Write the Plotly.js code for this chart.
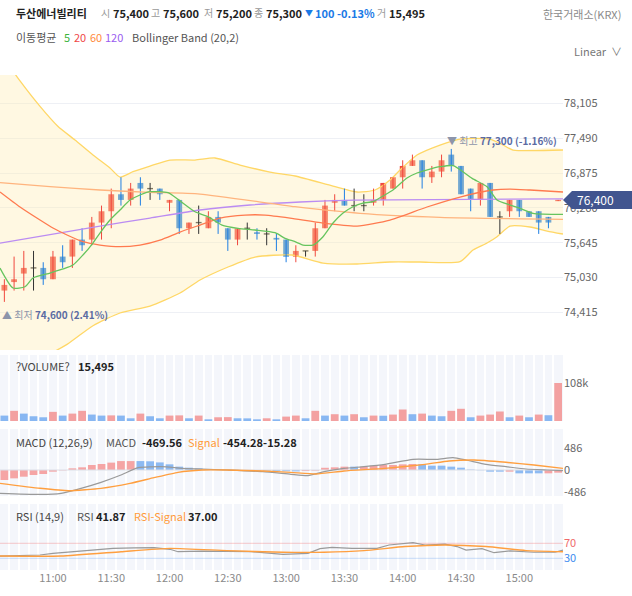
<!DOCTYPE html>
<html><head><meta charset="utf-8">
<script src="https://cdn.plot.ly/plotly-3.0.1.min.js"></script>
<style>html,body{margin:0;padding:0;background:#fff}#chart{width:632px;height:596px}</style>
</head><body><div id="chart"></div>
<script>
const FONT = '"Noto Sans CJK KR", "Noto Sans", sans-serif';

// ---- time axis (5-minute bars) ----
const times = ['10:35','10:40','10:45','10:50','10:55','11:00','11:05','11:10','11:15','11:20','11:25','11:30','11:35','11:40','11:45','11:50','11:55','12:00','12:05','12:10','12:15','12:20','12:25','12:30','12:35','12:40','12:45','12:50','12:55','13:00','13:05','13:10','13:15','13:20','13:25','13:30','13:35','13:40','13:45','13:50','13:55','14:00','14:05','14:10','14:15','14:20','14:25','14:30','14:35','14:40','14:45','14:50','14:55','15:00','15:05','15:10','15:15','15:20'];
const timeTickLabels = ['11:00','11:30','12:00','12:30','13:00','13:30','14:00','14:30','15:00'];

// ---- OHLC ----
const open  = [74800,74950,75100,75200,75200,75000,75400,75400,75700,75700,76000,76200,76500,76400,76700,76600,76600,76350,76400,75900,76000,75900,76100,75900,75700,75900,75830,75800,75730,75700,75400,75500,75500,75900,76350,76400,76300,76300,76350,76400,76600,76800,77000,77100,76800,76900,77200,77000,76600,76400,76700,76100,76200,76400,76200,76200,76100,76380];
const high  = [75000,75400,75500,75500,75300,75500,75600,75700,75900,76100,76300,76600,76800,76700,76800,76700,76600,76400,76400,76000,76300,76200,76200,75900,75900,76000,75900,75900,75800,75700,75600,75500,76000,76400,76500,76600,76600,76500,76600,76700,76800,77100,77200,77100,77000,77200,77300,77000,76600,76700,76700,76200,76400,76400,76200,76200,76100,76400];
const low   = [74600,74800,74800,74800,74900,75000,75200,75200,75500,75600,75700,75900,76300,76300,76300,76400,76400,76200,75800,75800,75800,75900,75800,75500,75600,75700,75700,75600,75500,75300,75300,75400,75400,75900,76200,76300,76200,76200,76300,76300,76600,76600,77000,76600,76700,76800,76900,76500,76200,76300,76100,75800,76100,76100,76100,75800,75900,76380];
const close = [74900,75000,75200,75200,75000,75400,75300,75700,75600,76000,76200,76500,76400,76600,76600,76600,76500,76400,75900,76000,76000,76100,76000,75700,75900,75900,75800,75800,75700,75400,75500,75500,75900,76300,76400,76300,76300,76300,76400,76700,76800,77000,77100,76800,76900,77100,77000,76500,76400,76700,76100,76100,76400,76200,76100,76000,76000,76400];

// ---- overlays (bar index, price) ----
const ma5X  = [-0.45,0.89,2.12,2.95,4.7,6.04,7.06,8.09,9.12,9.84,10.87,11.9,12.93,13.96,14.99,16.84,17.87,19.62,20.96,22.4,24.05,25.8,27.86,28.89,29.92,30.74,31.77,32.8,33.83,34.86,35.89,36.91,37.94,38.97,40.0,41.44,42.47,43.81,44.84,46.2,48.14,49.68,50.71,52.05,53.08,54.41,57.5];
const ma5Y  = [75198,74845,74868,75022,75110,75181,75251,75428,75639,75816,76045,76221,76398,76487,76545,76527,76410,76192,76104,75957,75899,75869,75821,75722,75662,75604,75604,75750,75992,76169,76280,76345,76368,76469,76575,76787,76875,76945,76986,77004,76781,76633,76398,76310,76252,76164,76146];
const ma20X = [-0.45,1.61,3.67,5.0,6.45,8.09,9.84,11.9,13.96,16.02,18.08,20.14,22.2,24.77,26.83,29.4,32.8,36.3,39.69,43.5,46.9,50.3,52.05,54.1,57.5];
const ma20Y = [76540,76275,76045,75904,75781,75662,75604,75574,75604,75692,75833,75957,76080,76133,76133,76080,75992,75939,76045,76275,76451,76575,76592,76575,76540];
const ma60X = [-0.45,4.7,9.84,14.99,20.14,29.92,36.61,44.84,57.5];
const ma60Y = [76704,76633,76575,76534,76504,76280,76163,76093,76058];
const ma120X = [-0.45,9.84,14.99,20.14,25.28,30.43,36.0,57.5];
const ma120Y = [75639,75939,76080,76222,76310,76363,76395,76420];
const bbUpX = [-0.45,1.61,3.67,5.5,7.27,9.12,10.87,11.9,13.24,14.99,17.05,19.62,21.68,24.25,27.34,29.92,33.83,36.3,38.15,39.69,40.72,42.47,44.84,46.9,49.99,51.33,52.36,57.5];
const bbUpY = [79000,78500,78050,77700,77457,77193,76963,76804,76898,76998,77104,77104,77140,77016,76892,76822,76645,76540,76575,76751,76928,77193,77369,77475,77475,77369,77281,77281];
const bbLoX = [-0.45,3.67,6.45,9.12,11.9,14.99,18.08,20.14,23.02,25.8,29.61,32.8,36.3,39.69,42.78,46.9,48.24,49.68,50.71,52.05,54.1,55.86,57.5];
const bbLoY = [73300,73600,73850,74180,74404,74527,74757,74986,75216,75392,75428,75286,75269,75304,75304,75310,75516,75639,75751,75939,75922,75851,75798];

// ---- volume ----
const volume = [15400,28900,21000,13500,10600,26000,15400,21000,28900,18300,15400,16000,15400,7700,21000,13500,7700,15400,16000,7700,15400,4800,10600,11000,7700,7500,4800,7700,4800,12500,15400,7700,28900,15400,19300,15400,19300,10600,15400,15000,18300,32700,19300,21000,15400,13500,28900,34700,10600,15400,18300,27000,10600,15400,10600,18300,16400,108000];
const volDir = ['d','u','d','d','d','u','d','u','u','d','d','u','d','d','u','d','d','u','u','d','u','d','u','u','d','d','d','u','d','u','u','d','u','d','u','d','u','d','u','d','u','u','d','u','d','d','u','u','d','u','u','u','d','u','d','u','d','u'];

// ---- MACD (12,26,9) ----
const macdHist = [-224,-187,-150,-112,-90,-37,-8,37,60,112,135,165,200,200,200,195,170,127,75,52,37,22,10,5,-5,-10,-10,-15,-22,-26,-30,-22,-15,50,60,75,75,75,97,112,112,127,135,127,97,97,75,52,10,-5,-37,-37,-37,-75,-75,-75,-75,-60];
const macdHistDir = ['u','u','u','u','u','u','u','u','u','u','u','u','u','u','d','d','d','d','d','d','d','d','d','d','d','d','d','d','d','d','d','u','u','u','u','u','d','u','u','u','u','u','u','d','d','d','d','d','d','d','d','d','u','d','d','d','u','u'];
const macdX = [-0.45,3.67,5.83,7.89,9.95,12.0,13.76,16.23,18.28,20.34,22.92,26.62,29.5,31.25,32.9,34.96,37.02,39.18,42.06,44.53,46.18,47.52,49.58,51.63,53.69,55.86,57.5];
const macdY = [-522,-545,-522,-410,-276,-112,52,75,37,22,0,-37,-97,-127,-37,37,75,127,239,239,276,224,127,75,22,0,-15];
const signalX = [-0.45,3.67,6.65,9.95,12.93,15.4,17.87,20.34,22.92,26.62,29.5,32.08,34.96,39.18,43.3,45.77,48.34,51.63,54.51,57.5];
const signalY = [-299,-410,-463,-410,-299,-172,-52,0,0,-22,-52,-90,-22,37,127,202,224,172,112,37];

// ---- RSI (14,9) ----
const rsiX = [-0.45,3.67,5.0,7.06,9.12,11.18,13.35,15.4,17.05,17.87,20.34,22.92,25.39,28.68,31.25,32.49,33.72,35.78,38.36,39.59,42.06,43.3,45.36,46.59,47.52,49.16,50.4,52.05,54.51,56.68,57.5];
const rsiY = [36,38.8,43.3,47.6,52,56.6,57.8,58.4,54,47.6,49,47.6,47.6,40.6,43.3,55.9,58.9,56.6,56.6,65.5,71.6,65.5,67.8,61.3,52,55.9,44.9,49.6,46.2,46.2,52];
const rsiSigX = [-0.45,5.83,12.0,17.05,22.92,28.68,32.9,37.02,41.24,45.36,49.58,53.69,57.5];
const rsiSigY = [36,36,47.6,56.6,50.5,46.2,46.2,50.5,61.3,65.5,61.3,50.5,47.6];

// ---- axis ticks ----
const mainTicks = [78105,77490,76875,76260,75645,75030,74415];
const macdTicks = [486,0,-486];
const rsiTicks = [70,30];
const volTicks = [108000];
const currentPrice = 76400;
const dayHigh = 77300, dayLow = 74600;

// ================= build =================
const idx = times.map((_, i) => i);
const XR = [-0.45, 57.5];
const C = {up:'#f0483e', down:'#1f7fe3', flat:'#333333'};
const dir = idx.map(i => close[i] > open[i] ? 'up' : (close[i] < open[i] ? 'down' : 'flat'));
const minBody = 24;

const traces = [];
traces.push({type:'scatter', mode:'lines', x:bbUpX.concat(bbLoX.slice().reverse()), y:bbUpY.concat(bbLoY.slice().reverse()),
  fill:'toself', fillcolor:'rgba(255,236,179,0.38)', line:{width:0, shape:'spline', smoothing:0.6}, hoverinfo:'skip', xaxis:'x', yaxis:'y'});
traces.push({type:'scatter', mode:'lines', x:bbUpX, y:bbUpY, line:{color:'#ffd766', width:1.3, shape:'spline', smoothing:0.6}, xaxis:'x', yaxis:'y'});
traces.push({type:'scatter', mode:'lines', x:bbLoX, y:bbLoY, line:{color:'#ffd766', width:1.3, shape:'spline', smoothing:0.6}, xaxis:'x', yaxis:'y'});

['up','down','flat'].forEach(d => {
  const wx = [], wy = [];
  idx.forEach(i => { if (dir[i] === d) { wx.push(i, i, null); wy.push(low[i], high[i], null); } });
  traces.push({type:'scatter', mode:'lines', x:wx, y:wy, line:{color:C[d], width:1}, xaxis:'x', yaxis:'y', hoverinfo:'skip'});
});
traces.push({type:'bar', x:idx,
  base: idx.map(i => { const lo = Math.min(open[i], close[i]); const h = Math.abs(close[i]-open[i]); return h < minBody ? (lo + h/2 - minBody/2) : lo; }),
  y: idx.map(i => Math.max(Math.abs(close[i]-open[i]), minBody)),
  width:0.6, marker:{color: idx.map(i => C[dir[i]]), line:{width:0}}, xaxis:'x', yaxis:'y', hoverinfo:'skip'});

const ma = [[ma120X, ma120Y, '#bb8cf2'], [ma60X, ma60Y, '#ffb47e'], [ma20X, ma20Y, '#ff7a4f'], [ma5X, ma5Y, '#66c45e']];
ma.forEach(([x, y, c]) => traces.push({type:'scatter', mode:'lines', x, y, line:{color:c, width:1.3, shape:'spline', smoothing:0.6}, xaxis:'x', yaxis:'y'}));

traces.push({type:'bar', x:idx, y:volume, width:0.8, marker:{color: volDir.map(d => d === 'u' ? '#f3a1a1' : '#88b7f2'), line:{width:0}}, xaxis:'x2', yaxis:'y2'});

traces.push({type:'scatter', mode:'lines', x:XR, y:[0,0], line:{color:'#dcdfe7', width:1}, xaxis:'x3', yaxis:'y3', hoverinfo:'skip'});
traces.push({type:'bar', x:idx, y:macdHist, width:0.8, marker:{color: macdHistDir.map(d => d === 'u' ? '#f5a5a5' : '#8dbaf2'), line:{width:0}}, xaxis:'x3', yaxis:'y3'});
traces.push({type:'scatter', mode:'lines', x:macdX, y:macdY, line:{color:'#9a9a9a', width:1.2, shape:'spline', smoothing:0.5}, xaxis:'x3', yaxis:'y3'});
traces.push({type:'scatter', mode:'lines', x:signalX, y:signalY, line:{color:'#ff9f3f', width:1.4, shape:'spline', smoothing:0.5}, xaxis:'x3', yaxis:'y3'});

traces.push({type:'scatter', mode:'lines', x:XR, y:[rsiTicks[0], rsiTicks[0]], line:{color:'rgba(240,110,110,0.35)', width:1}, xaxis:'x4', yaxis:'y4', hoverinfo:'skip'});
traces.push({type:'scatter', mode:'lines', x:XR, y:[rsiTicks[1], rsiTicks[1]], line:{color:'rgba(90,150,240,0.3)', width:1}, xaxis:'x4', yaxis:'y4', hoverinfo:'skip'});
traces.push({type:'scatter', mode:'lines', x:rsiX, y:rsiY, line:{color:'#9a9a9a', width:1.2}, xaxis:'x4', yaxis:'y4'});
traces.push({type:'scatter', mode:'lines', x:rsiSigX, y:rsiSigY, line:{color:'#ff9f3f', width:1.4, shape:'spline', smoothing:0.5}, xaxis:'x4', yaxis:'y4'});

// ---------- layout ----------
const PW = 563, PH = 596;
const dom = (top, bot) => [1 - bot/PH, 1 - top/PH];
const boundaries = [-0.5].concat(idx.map(i => i + 0.5));
const lowerX = (anchor, labels) => ({domain:[0,1], range:XR, anchor, showgrid:false, zeroline:false, showline:false, ticks:'',
  showticklabels: !!labels, tickvals: labels ? timeTickLabels.map(t => times.indexOf(t)) : undefined, ticktext: labels ? timeTickLabels : undefined,
  tickfont:{size:11, color:'#8a8a8a', family:FONT},
  minor:{tickmode:'array', tickvals:boundaries, showgrid:true, gridcolor:'#ffffff', gridwidth:2, ticks:''}});
const yRight = (anchor, domain, range, extra) => Object.assign({domain, range, anchor, side:'right', showgrid:false, zeroline:false, showline:false, ticks:'',
  tickfont:{size:11, color:'#666', family:FONT}}, extra);

function T(x, y, text, o = {}) {
  return {xref:'paper', yref:'paper', x:x/PW, y:1 - y/PH, xanchor:o.anchor || 'left', yanchor:'middle', showarrow:false, text,
    font:{family:FONT, size:o.size || 11, color:o.color || '#444'}};
}
const annotations = [
  T(14, 13, '<b>두산에너빌리티</b>', {size:11, color:'#222'}),
  T(99, 13, '시', {size:10, color:'#999'}), T(111, 13, '<b>75,400</b>', {size:11, color:'#222'}),
  T(149, 13, '고', {size:10, color:'#999'}), T(161, 13, '<b>75,600</b>', {size:11, color:'#222'}),
  T(202, 13, '저', {size:10, color:'#999'}), T(214, 13, '<b>75,200</b>', {size:11, color:'#222'}),
  T(252, 13, '종', {size:10, color:'#999'}), T(264, 13, '<b>75,300</b>', {size:11, color:'#222'}),
  T(303, 13, '▼', {size:8, color:'#1a7ae6'}), T(313, 13, '<b>100 -0.13%</b>', {size:11, color:'#1a7ae6'}),
  T(375, 13, '거', {size:10, color:'#999'}), T(387, 13, '<b>15,495</b>', {size:11, color:'#222'}),
  T(623, 14, '한국거래소(KRX)', {size:11, color:'#8a8a8a', anchor:'right'}),
  T(14, 37, '이동평균', {size:11, color:'#555'}),
  T(62, 37, '5', {size:11, color:'#3cb43c'}), T(72, 37, '20', {size:11, color:'#f04848'}),
  T(88, 37, '60', {size:11, color:'#ff8a3d'}), T(103, 37, '120', {size:11, color:'#9a5cf0'}),
  T(130, 37, 'Bollinger Band (20,2)', {size:11, color:'#555'}),
  T(624, 51, 'Linear  ∨', {size:11, color:'#777', anchor:'right'}),
  T(14, 366, '?VOLUME?', {size:11, color:'#444'}), T(76, 366, '<b>15,495</b>', {size:11, color:'#222'}),
  T(14, 442, 'MACD (12,26,9)', {size:11, color:'#444'}), T(104, 442, 'MACD', {size:11, color:'#555'}),
  T(140, 442, '<b>-469.56</b>', {size:11, color:'#222'}), T(186, 442, 'Signal', {size:11, color:'#ff9a3a'}),
  T(221, 442, '<b>-454.28-15.28</b>', {size:11, color:'#222'}),
  T(14, 516, 'RSI (14,9)', {size:11, color:'#444'}), T(75, 516, 'RSI', {size:11, color:'#555'}),
  T(94, 516, '<b>41.87</b>', {size:11, color:'#222'}), T(132, 516, 'RSI-Signal', {size:11, color:'#ff9a3a'}),
  T(186, 516, '<b>37.00</b>', {size:11, color:'#222'}),
  {xref:'x', yref:'y', x:46, y:dayHigh, xanchor:'left', yanchor:'bottom', xshift:-6, yshift:-1, showarrow:false,
    text:'<span style="color:#8d95aa">▼ 최고</span> <b>77,300 (-1.16%)</b>', font:{family:FONT, size:10, color:'#5b6ba3'}},
  {xref:'x', yref:'y', x:0, y:dayLow, xanchor:'left', yanchor:'top', xshift:-4, yshift:-3, showarrow:false,
    text:'<span style="color:#8d95aa">▲ 최저</span> <b>74,600 (2.41%)</b>', font:{family:FONT, size:10, color:'#5b6ba3'}},
  {xref:'paper', yref:'y', x:595/PW, y:currentPrice, xanchor:'center', yanchor:'middle', showarrow:false,
    text:'76,400', font:{family:FONT, size:12, color:'#ffffff'}}
];

const panelBg = ['2','3','4'].map(k => ({type:'rect', xref:'x'+k+' domain', yref:'y'+k+' domain', x0:0, x1:1, y0:0, y1:1,
  fillcolor:'#f4f6fb', line:{width:0}, layer:'below'}));
const shapes = panelBg.concat([
  {type:'path', xref:'paper', yref:'y', xsizemode:'pixel', ysizemode:'pixel', xanchor:1, yanchor:currentPrice,
    path:'M 0 0 L 9 9 L 69 9 L 69 -9 L 9 -9 Z', fillcolor:'#41558f', line:{width:0}, layer:'above'}
]);

const layout = {
  width:632, height:596, margin:{l:0, r:69, t:0, b:0},
  paper_bgcolor:'#ffffff', plot_bgcolor:'#ffffff', showlegend:false, barmode:'overlay',
  font:{family:FONT, size:11, color:'#555'},
  xaxis:{domain:[0,1], range:XR, anchor:'y', showgrid:false, zeroline:false, showticklabels:false, ticks:''},
  yaxis:yRight('x', dom(75, 350), [73751, 78605], {tickvals:mainTicks, tickformat:',d', showgrid:true, gridcolor:'#eef0f5'}),
  xaxis2:lowerX('y2', false),
  yaxis2:yRight('x2', dom(355, 421), [0, 187600], {tickvals:volTicks, ticktext:['108k']}),
  xaxis3:lowerX('y3', false),
  yaxis3:yRight('x3', dom(429, 496), [-582, 918], {tickvals:macdTicks, ticktext:macdTicks.map(String)}),
  xaxis4:lowerX('y4', true),
  yaxis4:yRight('x4', dom(504, 570), [-1.2, 174.8], {tickvals:rsiTicks,
    ticktext:['<span style="color:#f06a6a">70</span>', '<span style="color:#3d8bf0">30</span>']}),
  annotations, shapes
};

Plotly.newPlot('chart', traces, layout, {staticPlot:true, displayModeBar:false});
</script></body></html>
